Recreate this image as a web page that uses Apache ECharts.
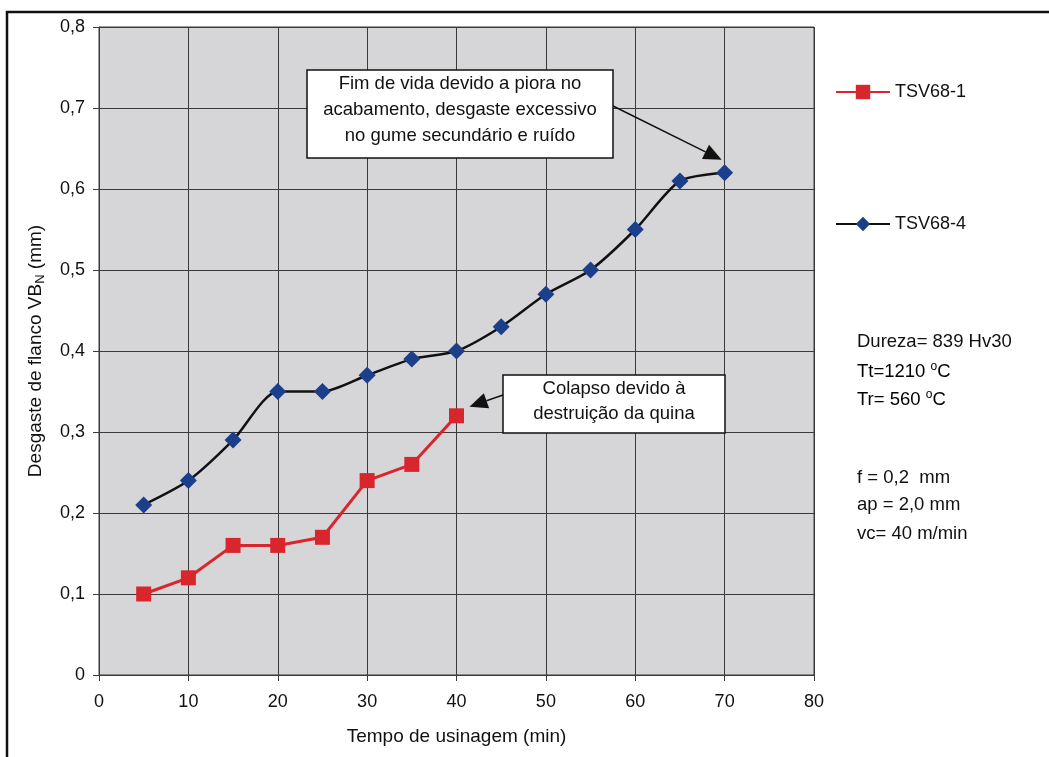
<!DOCTYPE html>
<html>
<head>
<meta charset="utf-8">
<script src="https://cdn.jsdelivr.net/npm/echarts@6/dist/echarts.min.js"></script>
<style>
  html, body { margin: 0; padding: 0; background: #fff; }
  #chart { width: 1049px; height: 757px; }
</style>
</head>
<body>
<div id="chart"></div>
<script>
// Flank wear over machining time for two tool samples
const timeMin = [5, 10, 15, 20, 25, 30, 35, 40, 45, 50, 55, 60, 65, 70];
const wearTSV68_1 = [0.10, 0.12, 0.16, 0.16, 0.17, 0.24, 0.26, 0.32];
const wearTSV68_4 = [0.21, 0.24, 0.29, 0.35, 0.35, 0.37, 0.39, 0.40, 0.43, 0.47, 0.50, 0.55, 0.61, 0.62];
const xTicks = [0, 10, 20, 30, 40, 50, 60, 70, 80];
const yTicks = [0, 0.1, 0.2, 0.3, 0.4, 0.5, 0.6, 0.7, 0.8];
const seriesNames = ['TSV68-1', 'TSV68-4'];

const FONT = '"Liberation Sans", Arial, sans-serif';
const INK = '#111';

const pairs = (vals) => vals.map((v, i) => [timeMin[i], v]);
const fmtY = (v) => (v === 0 ? '0' : v.toFixed(1).replace('.', ','));

const chart = echarts.init(document.getElementById('chart'), null, { renderer: 'canvas' });

const option = {
  animation: false,
  backgroundColor: '#fff',
  textStyle: { fontFamily: FONT, color: INK },
  grid: {
    left: 99, right: 235, top: 27, bottom: 82,
    show: true, backgroundColor: '#d6d6d8', borderColor: '#3a3a3a', borderWidth: 1
  },
  legend: {
    orient: 'vertical', left: 830, top: 78,
    itemWidth: 54, itemHeight: 18, itemGap: 114,
    textStyle: { fontFamily: FONT, fontSize: 18, color: INK },
    data: seriesNames
  },
  xAxis: {
    type: 'value', min: xTicks[0], max: xTicks[xTicks.length - 1], interval: 10,
    name: 'Tempo de usinagem (min)', nameLocation: 'middle', nameGap: 52,
    nameTextStyle: { fontFamily: FONT, fontSize: 19, color: INK },
    axisLine: { show: true, onZero: false, lineStyle: { color: '#3a3a3a', width: 1 } },
    axisTick: { show: true, length: 6, lineStyle: { color: '#3a3a3a' } },
    axisLabel: { fontFamily: FONT, fontSize: 18, color: INK, margin: 18 },
    splitLine: { show: true, lineStyle: { color: '#3a3a3a', width: 1 } }
  },
  yAxis: {
    type: 'value', min: yTicks[0], max: yTicks[yTicks.length - 1], interval: 0.1,
    name: '{a|Desgaste de flanco VB}{s|N}{a| (mm)}', nameLocation: 'middle', nameGap: 52,
    nameTextStyle: {
      fontFamily: FONT, color: INK,
      rich: {
        a: { fontFamily: FONT, fontSize: 19, color: INK },
        s: { fontFamily: FONT, fontSize: 13, color: INK, padding: [9, 0, 0, 0] }
      }
    },
    axisLine: { show: true, lineStyle: { color: '#3a3a3a', width: 1 } },
    axisTick: { show: true, length: 6, lineStyle: { color: '#3a3a3a' } },
    axisLabel: { fontFamily: FONT, fontSize: 18, color: INK, margin: 14, formatter: fmtY },
    splitLine: { show: true, lineStyle: { color: '#3a3a3a', width: 1 } }
  },
  series: [
    {
      name: seriesNames[0], type: 'line', data: pairs(wearTSV68_1),
      symbol: 'rect', symbolSize: 15,
      lineStyle: { color: '#d9262c', width: 3 },
      itemStyle: { color: '#d9262c' }
    },
    {
      name: seriesNames[1], type: 'line', data: pairs(wearTSV68_4),
      smooth: 0.25,
      symbol: 'diamond', symbolSize: 17,
      lineStyle: { color: '#111', width: 2.5 },
      itemStyle: { color: '#1c3f8c' }
    }
  ]
};
chart.setOption(option);

// Annotation boxes with arrows pointing at the last point of each series
function arrow(x1, y1, x2, y2) {
  const ang = Math.atan2(y2 - y1, x2 - x1);
  const L = 18, W = 8;
  const bx = x2 - L * Math.cos(ang), by = y2 - L * Math.sin(ang);
  const nx = -Math.sin(ang) * W, ny = Math.cos(ang) * W;
  return [
    { type: 'line', shape: { x1: x1, y1: y1, x2: bx, y2: by }, style: { stroke: '#111', lineWidth: 1.5 }, z: 20 },
    { type: 'polygon', shape: { points: [[x2, y2], [bx + nx, by + ny], [bx - nx, by - ny]] }, style: { fill: '#111' }, z: 20 }
  ];
}

const endA = chart.convertToPixel({ gridIndex: 0 }, [timeMin[wearTSV68_4.length - 1], wearTSV68_4[wearTSV68_4.length - 1]]);
const endB = chart.convertToPixel({ gridIndex: 0 }, [timeMin[wearTSV68_1.length - 1], wearTSV68_1[wearTSV68_1.length - 1]]);

const noteStyle = { fontFamily: FONT, fontSize: 18.5, fill: INK, align: 'center', verticalAlign: 'middle' };
const sideText = { fontFamily: FONT, fontSize: 18.5, fill: INK, verticalAlign: 'middle' };
const degRich = {
  t: { fontFamily: FONT, fontSize: 18.5, color: INK },
  o: { fontFamily: FONT, fontSize: 12, color: INK, padding: [0, 0, 10, 0] }
};

const graphics = [
  // outer frame
  { type: 'rect', shape: { x: 7, y: 12, width: 1100, height: 800 }, style: { fill: 'none', stroke: '#111', lineWidth: 2.5 }, z: 1 },
  // note 1
  { type: 'rect', shape: { x: 307, y: 70, width: 306, height: 88 }, style: { fill: '#fff', stroke: '#111', lineWidth: 1.5 }, z: 20 },
  { type: 'text', x: 460, y: 110, style: Object.assign({ text: 'Fim de vida devido a piora no\nacabamento, desgaste excessivo\nno gume secundário e ruído', lineHeight: 26 }, noteStyle), z: 21 },
  ...arrow(613, 106, endA[0] - 3, endA[1] - 13),
  // note 2
  { type: 'rect', shape: { x: 503, y: 375, width: 222, height: 58 }, style: { fill: '#fff', stroke: '#111', lineWidth: 1.5 }, z: 20 },
  { type: 'text', x: 614, y: 401, style: Object.assign({ text: 'Colapso devido à\ndestruição da quina', lineHeight: 25 }, noteStyle), z: 21 },
  ...arrow(503, 395, endB[0] + 13, endB[1] - 9),
  // test conditions
  { type: 'text', x: 857, y: 342, style: Object.assign({ text: 'Dureza= 839 Hv30' }, sideText) },
  { type: 'text', x: 857, y: 372, style: { text: '{t|Tt=1210 }{o|o}{t|C}', rich: degRich, verticalAlign: 'middle' } },
  { type: 'text', x: 857, y: 400, style: { text: '{t|Tr= 560 }{o|o}{t|C}', rich: degRich, verticalAlign: 'middle' } },
  { type: 'text', x: 857, y: 478, style: Object.assign({ text: 'f = 0,2  mm' }, sideText) },
  { type: 'text', x: 857, y: 505, style: Object.assign({ text: 'ap = 2,0 mm' }, sideText) },
  { type: 'text', x: 857, y: 534, style: Object.assign({ text: 'vc= 40 m/min' }, sideText) }
];
chart.setOption({ graphic: graphics });
</script>
</body>
</html>
